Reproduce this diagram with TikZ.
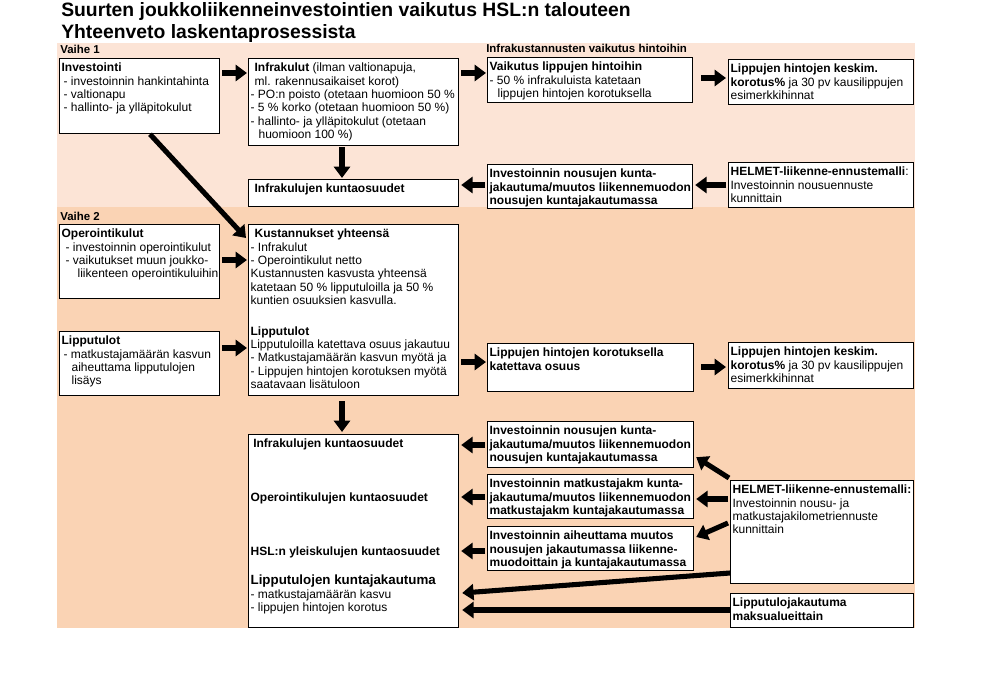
\documentclass[tikz,border=0pt]{standalone}
\usepackage{fontspec}
\setmainfont{Liberation Sans}
\usetikzlibrary{arrows.meta}
\definecolor{VaiheLight}{HTML}{FCE4D6}
\definecolor{VaiheDark}{HTML}{FAD3B4}
\newlength\pxu
\setlength\pxu{0.75pt}
\newcommand{\cell}[3]{\parbox[t][\dimexpr#2\pxu-4\pxu\relax][t]{\dimexpr#1\pxu-4\pxu\relax}{\begin{tabular}[t]{@{}l@{}}\rule{0pt}{8.5pt}#3\end{tabular}}}

\begin{document}
\begin{tikzpicture}[x=0.75pt, y=-0.75pt,
    every node/.style={font=\fontsize{9}{10}\selectfont},
    box/.style={draw, line width=0.9pt, fill=white, inner sep=1.5pt, anchor=north west},
    boldbox/.style={box, font=\bfseries\fontsize{9}{10}\selectfont},
    lbl/.style={anchor=base west, inner sep=0pt, font=\bfseries\fontsize{8.6}{10}\selectfont},
    ttl/.style={anchor=base west, inner sep=0pt, font=\bfseries\fontsize{14.5}{16.5}\selectfont},
    arr/.style={-{Triangle[length=8.5pt, width=12pt]}, line width=3.8pt}]
    \useasboundingbox (0,0) rectangle (988,681);
    \fill[VaiheLight] (57,43) rectangle (915,207);
    \fill[VaiheDark] (57,207) rectangle (915,628);

    \node[ttl] (title1) at (61,17) {Suurten joukkoliikenneinvestointien vaikutus HSL:n talouteen};
    \node[ttl] (title2) at (61,39) {Yhteenveto laskentaprosessista};
    \node[lbl] (vaihe1) at (60,54) {Vaihe 1};
    \node[lbl] (hintalbl) at (486,53) {Infrakustannusten vaikutus hintoihin};
    \node[lbl] (vaihe2) at (60,220) {Vaihe 2};

    \node[box] (invest) at (59,58) {\cell{160}{75}{\textbf{Investointi}\\
        \hspace*{1.5pt}- investoinnin hankintahinta\\
        \hspace*{1.5pt}- valtionapu\\
        \hspace*{1.5pt}- hallinto- ja ylläpitokulut}};
    \node[box] (infra) at (248,58) {\cell{210}{87}{\hspace*{3pt}\textbf{Infrakulut} (ilman valtionapuja,\\
        \hspace*{3pt}ml. rakennusaikaiset korot)\\
        - PO:n poisto (otetaan huomioon 50 \%\\
        - 5 \% korko (otetaan huomioon 50 \%)\\
        - hallinto- ja ylläpitokulut (otetaan\\
        \hspace*{6pt}huomioon 100 \%)}};
    \node[boldbox] (infraosuus) at (248,179) {\cell{210}{27}{\hspace*{3pt}Infrakulujen kuntaosuudet}};
    \node[box] (vaikutus) at (487,57) {\cell{205}{45}{\textbf{Vaikutus lippujen hintoihin}\\
        - 50 \% infrakuluista katetaan\\
        \hspace*{6pt}lippujen hintojen korotuksella}};
    \node[box] (keskim1) at (728,59) {\cell{185}{45}{\textbf{Lippujen hintojen keskim.}\\
        \textbf{korotus\%} ja 30 pv kausilippujen\\
        esimerkkihinnat}};
    \node[boldbox] (nousut1) at (487,164) {\cell{205}{44}{Investoinnin nousujen kunta-\\
        jakautuma/muutos liikennemuodon\\
        nousujen kuntajakautumassa}};
    \node[box] (helmet1) at (728,162) {\cell{185}{45}{\textbf{HELMET-liikenne-ennustemalli}:\\
        Investoinnin nousuennuste\\
        kunnittain}};

    \node[box] (operointi) at (59,224) {\cell{160}{74}{\textbf{Operointikulut}\\
        \hspace*{3pt}- investoinnin operointikulut\\
        \hspace*{3pt}- vaikutukset muun joukko-\\
        \hspace*{12pt}liikenteen operointikuluihin}};
    \node[box] (kustannukset) at (248,224) {\cell{210}{171}{\hspace*{3pt}\textbf{Kustannukset yhteensä}\\
        - Infrakulut\\
        - Operointikulut netto\\
        Kustannusten kasvusta yhteensä\\
        katetaan 50 \% lipputuloilla ja 50 \%\\
        kuntien osuuksien kasvulla.\\[13pt]
        \textbf{Lipputulot}\\
        Lipputuloilla katettava osuus jakautuu\\
        - Matkustajamäärän kasvun myötä ja\\
        - Lippujen hintojen korotuksen myötä\\
        saatavaan lisätuloon}};
    \node[box] (lipputulot) at (59,331) {\cell{160}{64}{\textbf{Lipputulot}\\
        \hspace*{1.5pt}- matkustajamäärän kasvun\\
        \hspace*{7.5pt}aiheuttama lipputulojen\\
        \hspace*{7.5pt}lisäys}};
    \node[boldbox] (korotus) at (487,343) {\cell{206}{48}{Lippujen hintojen korotuksella\\
        katettava osuus}};
    \node[box] (keskim2) at (728,342) {\cell{185}{46}{\textbf{Lippujen hintojen keskim.}\\
        \textbf{korotus\%} ja 30 pv kausilippujen\\
        esimerkkihinnat}};

    \node[box] (kuntaosuudet) at (248,434) {\cell{210}{193}{\hspace*{2pt}\textbf{Infrakulujen kuntaosuudet}\\[30pt]
        \textbf{Operointikulujen kuntaosuudet}\\[31pt]
        \textbf{HSL:n yleiskulujen kuntaosuudet}\\[11.5pt]
        {\fontsize{10}{10}\selectfont\bfseries Lipputulojen kuntajakautuma}\\
        - matkustajamäärän kasvu\\
        - lippujen hintojen korotus}};
    \node[boldbox] (nousut2) at (487,421) {\cell{206}{46}{Investoinnin nousujen kunta-\\
        jakautuma/muutos liikennemuodon\\
        nousujen kuntajakautumassa}};
    \node[boldbox] (matkkm) at (487,474) {\cell{206}{44}{Investoinnin matkustajakm kunta-\\
        jakautuma/muutos liikennemuodon\\
        matkustajakm kuntajakautumassa}};
    \node[boldbox] (muutos) at (487,526) {\cell{206}{44}{Investoinnin aiheuttama muutos\\
        nousujen jakautumassa liikenne-\\
        muodoittain ja kuntajakautumassa}};
    \node[box] (helmet2) at (730,480) {\cell{183}{103}{\textbf{HELMET-liikenne-ennustemalli:}\\
        Investoinnin nousu- ja\\
        matkustajakilometriennuste\\
        kunnittain}};
    \node[boldbox] (lippujako) at (730,593) {\cell{183}{34}{Lipputulojakautuma\\
        maksualueittain}};

    \draw[arr] ([shift={(2,15)}]invest.north east) -- ([shift={(-1,15)}]infra.north west);
    \draw[arr] ([shift={(2,15)}]infra.north east) -- ([shift={(-1,16)}]vaikutus.north west);
    \draw[arr] ([shift={(8,21)}]vaikutus.north east) -- ([shift={(-2,19)}]keskim1.north west);
    \draw[arr] ([shift={(94,1)}]infra.south west) -- ([shift={(94,-1)}]infraosuus.north west);
    \draw[arr] ([shift={(-2,23)}]helmet1.north west) -- ([shift={(2,21)}]nousut1.north east);
    \draw[arr] ([shift={(-2,21)}]nousut1.north west) -- ([shift={(2,6)}]infraosuus.north east);
    \draw[arr] ([shift={(91,0)}]invest.south west) -- ([shift={(-2,14)}]kustannukset.north west);
    \draw[arr] ([shift={(2,36)}]operointi.north east) -- ([shift={(-1,36)}]kustannukset.north west);
    \draw[arr] ([shift={(2,17)}]lipputulot.north east) -- ([shift={(-1,124)}]kustannukset.north west);
    \draw[arr] ([shift={(2,138)}]kustannukset.north east) -- ([shift={(-1,19)}]korotus.north west);
    \draw[arr] ([shift={(7,24)}]korotus.north east) -- ([shift={(-2,25)}]keskim2.north west);
    \draw[arr] ([shift={(94,5)}]kustannukset.south west) -- ([shift={(94,-2)}]kuntaosuudet.north west);
    \draw[arr] ([shift={(-2,24)}]nousut2.north west) -- ([shift={(2,11)}]kuntaosuudet.north east);
    \draw[arr] ([shift={(-2,23)}]matkkm.north west) -- ([shift={(2,63)}]kuntaosuudet.north east);
    \draw[arr] ([shift={(-2,25)}]muutos.north west) -- ([shift={(2,117)}]kuntaosuudet.north east);
    \draw[arr] ([shift={(-1,-2)}]helmet2.north west) -- ([shift={(2,-11)}]nousut2.south east);
    \draw[arr] ([shift={(-2,19)}]helmet2.north west) -- ([shift={(2,25)}]matkkm.north east);
    \draw[arr] ([shift={(-2,43)}]helmet2.north west) -- ([shift={(2,11)}]muutos.north east);
    \draw[arr] ([shift={(0,93)}]helmet2.north west) -- ([shift={(3,159)}]kuntaosuudet.north east);
    \draw[arr] ([shift={(0,17)}]lippujako.north west) -- ([shift={(3,176)}]kuntaosuudet.north east);
\end{tikzpicture}
\end{document}
